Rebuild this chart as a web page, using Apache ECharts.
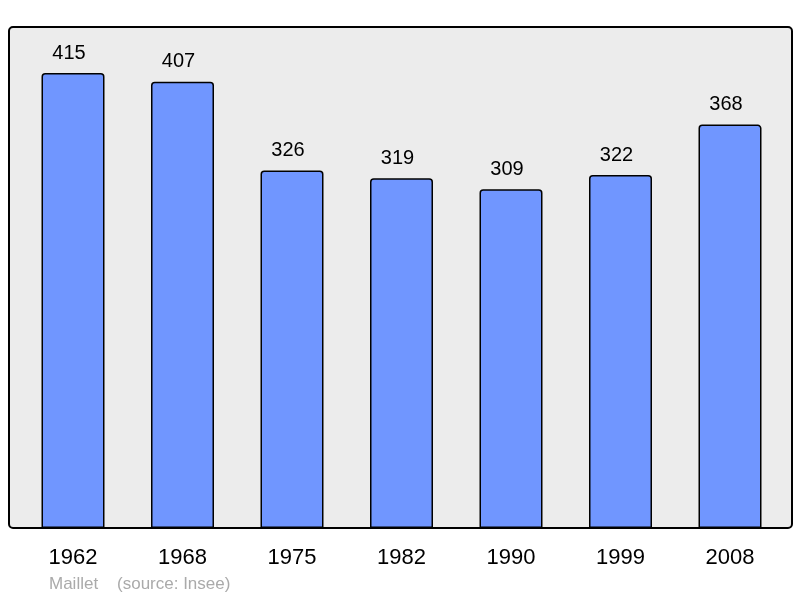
<!DOCTYPE html>
<html>
<head>
<meta charset="utf-8">
<script src="https://cdn.jsdelivr.net/npm/echarts@6/dist/echarts.min.js"></script>
<style>html,body{margin:0;padding:0;background:#fff;}#c{width:800px;height:598px;}</style>
</head>
<body>
<div id="c"></div>
<script>
var categories = ['1962','1968','1975','1982','1990','1999','2008'];
var population = [415, 407, 326, 319, 309, 322, 368];
var footnote = 'Maillet    (source: Insee)';

var chart = echarts.init(document.getElementById('c'), null, {renderer: 'canvas'});
chart.setOption({
  animation: false,
  backgroundColor: '#ffffff',
  graphic: [
    {type: 'rect', z: -10, shape: {x: 9, y: 27, width: 783, height: 501, r: 4},
     style: {fill: '#ececec', stroke: '#000', lineWidth: 2}},
    {type: 'text', left: 49, top: 576, z: 10,
     style: {text: footnote, fill: '#aaaaaa', font: '17px "Liberation Sans", Arial, sans-serif'}}
  ],
  grid: {left: 18.25, right: 15.25, top: 27, bottom: 70, containLabel: false},
  xAxis: {
    type: 'category', data: categories,
    axisLine: {show: false}, axisTick: {show: false},
    axisLabel: {color: '#000', fontSize: 22, fontFamily: 'Liberation Sans', margin: 19}
  },
  yAxis: {
    type: 'value', min: 0, max: 457,
    axisLine: {show: false}, axisTick: {show: false}, axisLabel: {show: false},
    splitLine: {show: false}
  },
  series: [{
    type: 'bar', data: population, barWidth: 63,
    itemStyle: {color: '#7096ff', borderColor: '#000', borderWidth: 1.5, borderRadius: [3,3,0,0]},
    label: {show: true, position: 'top', distance: 10, offset: [-4, 0], color: '#000', fontSize: 20, fontFamily: 'Liberation Sans'}
  }]
});
</script>
</body>
</html>
